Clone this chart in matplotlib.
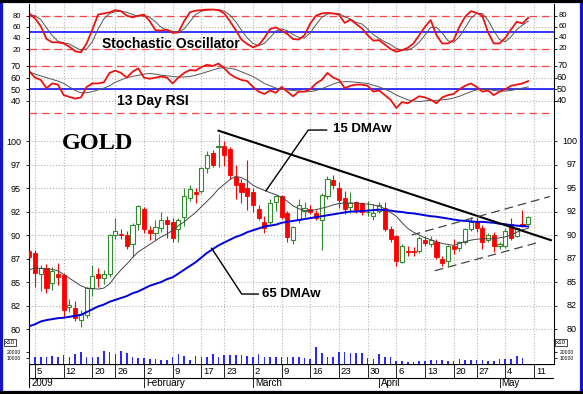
import matplotlib
matplotlib.use('Agg')
import matplotlib.pyplot as plt
from matplotlib.patches import Rectangle
import numpy as np

plt.rcParams['font.family'] = ['Liberation Sans', 'DejaVu Sans']

W, H = 583, 394

# ---- daily candles (trading day index 0 = Jan 2 2009) ----
opens = [88.3, 88.1, 85.9, 86.5, 84.9, 85.8, 85.7, 82.3, 82.2, 81.0,
         81.5, 84.4, 85.8, 85.4, 85.8, 90.0, 90.1, 90.0, 89.0, 91.2,
         92.8, 90.5, 90.2, 90.7, 91.6, 91.4, 90.6, 91.9, 93.9, 94.6,
         94.7, 97.1, 98.7, 99.4, 99.5, 99.2, 96.2, 95.5, 95.0, 94.6,
         92.8, 91.4, 91.4, 93.5, 94.1, 92.3, 89.5, 91.6, 92.6, 92.8,
         92.3, 91.6, 94.1, 95.9, 95.0, 93.9, 93.0, 93.5, 93.4, 92.4,
         92.0, 92.6, 92.9, 90.6, 89.9, 87.1, 88.3, 88.35, 88.3, 89.5,
         89.0, 89.3, 87.4, 87.2, 88.8, 88.6, 89.3, 90.6, 91.4, 90.7,
         89.5, 90.0, 88.8, 88.8, 91.2, 89.9, 91.2, 91.2]
highs = [88.5, 88.4, 86.8, 86.9, 86.6, 87.0, 86.0, 83.2, 83.0, 82.0,
         84.5, 86.8, 86.5, 86.3, 90.1, 91.8, 90.6, 90.4, 91.3, 93.2,
         93.0, 91.0, 91.6, 92.5, 92.0, 91.8, 91.8, 95.0, 95.3, 95.0,
         97.2, 98.9, 99.0, 100.8, 100.0, 99.4, 97.5, 96.0, 98.0, 95.0,
         93.2, 92.0, 93.8, 94.3, 94.3, 92.6, 91.0, 93.8, 93.5, 93.2,
         92.7, 94.5, 96.3, 96.4, 95.6, 94.7, 94.6, 93.6, 93.5, 93.6,
         93.3, 93.5, 93.5, 91.0, 90.0, 89.0, 88.8, 88.7, 89.9, 89.9,
         89.9, 89.6, 87.8, 88.9, 89.6, 89.4, 90.7, 91.9, 91.9, 91.1,
         90.2, 90.3, 89.3, 90.7, 91.8, 90.9, 92.7, 92.0]
lows = [87.5, 84.5, 84.0, 83.8, 84.1, 84.7, 81.3, 81.8, 80.8, 80.2,
        81.2, 83.5, 84.5, 84.8, 85.5, 89.6, 89.6, 88.5, 87.7, 90.5,
        90.2, 89.5, 89.5, 90.3, 89.7, 89.3, 89.3, 91.0, 93.6, 93.4,
        94.5, 96.6, 97.2, 97.2, 97.3, 96.0, 93.8, 93.4, 92.7, 92.5,
        91.6, 90.2, 91.2, 92.6, 91.7, 89.3, 89.0, 91.3, 91.9, 92.2,
        91.6, 88.4, 93.8, 94.9, 92.9, 92.2, 92.3, 92.3, 92.1, 92.0,
        91.6, 92.3, 90.4, 89.3, 86.7, 87.0, 87.8, 87.8, 88.1, 88.8,
        88.7, 87.4, 86.7, 86.7, 88.0, 88.3, 89.0, 90.4, 90.3, 88.5,
        89.3, 88.2, 88.5, 88.6, 89.5, 89.8, 90.9, 91.1]
closes = [87.7, 86.0, 86.5, 84.4, 86.2, 85.5, 82.0, 82.6, 81.2, 81.6,
          84.4, 85.6, 85.4, 85.9, 90.0, 90.4, 90.0, 88.8, 91.1, 93.1,
          90.6, 90.2, 90.8, 91.6, 91.2, 89.7, 91.6, 94.1, 94.9, 94.4,
          97.1, 98.5, 97.5, 99.5, 98.5, 96.4, 95.3, 94.6, 94.1, 93.2,
          91.8, 90.7, 93.4, 94.1, 91.9, 89.8, 90.9, 93.2, 92.9, 92.5,
          91.8, 94.3, 96.0, 95.3, 93.7, 92.8, 93.4, 92.7, 92.5, 92.5,
          92.3, 93.2, 90.6, 89.6, 87.2, 88.8, 88.2, 88.2, 89.7, 89.15,
          89.5, 87.7, 87.0, 88.8, 88.5, 89.3, 90.6, 91.4, 90.7, 89.3,
          90.0, 88.8, 89.0, 90.4, 89.7, 90.7, 91.0, 91.9]

dma15 = [86.3, 86.5, 86.45, 86.4, 86.35, 86.2, 85.8, 85.4, 85.0, 84.6,
         84.35, 84.3, 84.25, 84.35, 84.8, 85.6, 86.3, 86.9, 87.6, 88.2,
         88.6, 89.0, 89.4, 89.8, 90.1, 90.5, 91.0, 91.4, 91.9, 92.4,
         93.0, 93.6, 94.2, 94.9, 95.4, 95.9, 96.25, 96.1, 95.8, 95.3,
         95.0, 94.75, 94.5, 94.3, 94.0, 93.6, 93.1, 92.8, 92.6, 92.6,
         92.7, 92.85, 93.0, 93.2, 93.35, 93.4, 93.4, 93.4, 93.3, 93.3,
         93.2, 93.05, 92.8, 92.4, 92.0, 91.3, 90.7, 90.3, 90.0, 89.7,
         89.5, 89.3, 89.1, 89.0, 88.9, 89.1, 89.3, 89.45, 89.55, 89.6,
         89.6, 89.6, 89.7, 89.8, 90.0, 90.3, 90.55, 90.7]
dma65 = [80.3, 80.5, 80.8, 80.95, 81.05, 81.15, 81.2, 81.3, 81.4, 81.5,
         81.8, 82.1, 82.4, 82.6, 82.9, 83.1, 83.3, 83.5, 83.8, 84.0,
         84.3, 84.6, 84.8, 85.0, 85.3, 85.5, 85.9, 86.3, 86.7, 87.1,
         87.6, 88.1, 88.5, 88.9, 89.2, 89.5, 89.8, 90.0, 90.3, 90.5,
         90.7, 90.9, 91.0, 91.1, 91.3, 91.4, 91.5, 91.6, 91.7, 91.8,
         91.9, 92.0, 92.1, 92.2, 92.3, 92.4, 92.5, 92.5, 92.55, 92.6,
         92.65, 92.7, 92.65, 92.6, 92.5, 92.45, 92.35, 92.3, 92.2, 92.1,
         92.0, 91.95, 91.85, 91.75, 91.65, 91.55, 91.5, 91.45, 91.4, 91.4,
         91.35, 91.3, 91.2, 91.15, 91.05, 91.0, 90.95, 90.9]

stoch_k = [84, 75, 61, 38, 32, 32, 30, 24, 16, 14,
           30, 55, 82, 84, 86, 90, 88, 80, 77, 80,
           82, 70, 54, 53, 55, 49, 50, 70, 86, 89,
           90, 91, 91, 90, 84, 70, 54, 37, 29, 23,
           27, 40, 56, 59, 53, 47, 38, 37, 45, 66,
           80, 84, 85, 84, 82, 67, 73, 65, 57, 45,
           35, 36, 28, 20, 15, 18, 22, 30, 45, 60,
           72, 45, 30, 30, 36, 60, 78, 88, 85, 80,
           50, 30, 30, 40, 55, 69, 66, 76]
stoch_d = [82, 80, 73, 58, 44, 34, 31, 29, 23, 18,
           20, 33, 56, 74, 84, 87, 88, 86, 82, 79,
           80, 77, 69, 59, 54, 52, 51, 56, 69, 82,
           88, 90, 91, 91, 88, 81, 69, 54, 40, 30,
           26, 30, 41, 52, 56, 53, 46, 41, 40, 49,
           64, 77, 83, 84, 84, 78, 74, 68, 65, 56,
           46, 39, 33, 28, 21, 18, 18, 23, 32, 45,
           59, 59, 49, 35, 32, 42, 58, 75, 84, 84,
           72, 53, 37, 33, 42, 55, 63, 70]

rsi = [65.5, 60, 58, 51, 55, 54, 45, 43.5, 42, 43,
       52, 55, 55, 56, 64, 66, 64, 60, 65, 68,
       60, 59, 60, 61, 60, 55, 60, 64, 66.5, 66,
       69, 71, 70, 72, 68, 63, 60, 58, 57, 52,
       48, 46, 49, 47, 52, 48, 44, 48, 48, 50,
       55, 58, 64, 60, 58, 51, 53, 54, 54, 53,
       48, 49, 45, 41, 34, 39, 38, 41, 44, 43,
       41, 38, 43, 45, 46, 50, 53, 55, 52, 48,
       49, 45, 48, 50, 53, 54, 55, 57]
rsi_sig = [65, 63, 61.5, 60, 58.5, 57, 55, 52, 49, 47,
           47, 48, 49.5, 51, 53, 56, 58, 60, 61, 62,
           63, 63.5, 63, 62, 61.5, 61, 60.5, 60.5, 61, 62,
           63.5, 65, 66.5, 68, 68.5, 68, 67, 65, 63, 61,
           58, 55, 53, 51, 50, 49.5, 49, 48.5, 48, 48,
           49, 50.5, 52.5, 54.5, 56, 56.5, 56.5, 56, 55.5, 55,
           53.5, 52, 50, 48, 45, 43, 41, 40, 39.5, 40,
           40.5, 40.5, 41, 41.5, 42.5, 44, 46, 48, 49.5, 50,
           50, 49, 48.5, 48.5, 49, 50, 51, 52]

volume = [10000, 11700, 11700, 11700, 13900, 11700, 15600, 12800, 16700, 20000,
          12800, 12800, 11700, 22000, 21000, 16700, 22000, 18300, 12800, 10000,
          10000, 8300, 8300, 7200, 7200, 11700, 16700, 13900, 7200, 13900,
          12800, 12800, 16700, 12800, 15600, 15600, 15600, 15600, 13900, 12800,
          16700, 12800, 11700, 11700, 12800, 11700, 11700, 11700, 10000, 8300,
          28300, 19400, 12800, 12800, 21000, 21000, 18300, 18300, 18300, 10000,
          8300, 17200, 11700, 12800, 6100, 6100, 4400, 4400, 6100, 6100,
          7200, 7200, 7200, 6100, 6100, 8300, 7200, 7200, 7200, 7200,
          6100, 6100, 8300, 8300, 8300, 13900, 10000, 0]

# x axis labels
date_ticks = [1, 6, 11, 15, 20, 25, 30, 34, 39, 44, 49, 54, 59, 64, 69, 74, 78, 83, 88]
date_labels = ['5', '12', '20', '26', '2', '9', '17', '23', '2', '9', '16', '23',
               '30', '6', '13', '20', '27', '4', '11']
month_pos = [0, 20, 39, 61, 82]
month_labels = ['2009', 'February', 'March', 'April', 'May']

price_ticks = [80, 82.5, 85, 87.5, 90, 92.5, 95, 97.5, 100]
price_labels = ['80', '82', '85', '87', '90', '92', '95', '97', '100']

# resistance line and trading channel (index, price)
trend_x, trend_y = [33, 90.95], [101.1, 89.45]
chan_up_x, chan_up_y = [66.7, 90.8], [90.0, 94.1]
chan_lo_x, chan_lo_y = [70.7, 88.7], [86.2, 89.2]

x = np.arange(len(closes))
XLIM = (-0.05, 91.5)
GREEN = '#2e8b2e'
RED = '#ff0000'


def panel(top, bottom):
    # pixel rows -> figure axes
    return fig.add_axes([29 / W, 1 - bottom / H, 525 / W, (bottom - top) / H])


def style(ax, ticks, labels, size, rx):
    ax.set_xlim(*XLIM)
    ax.spines['top'].set_visible(False)
    ax.spines['bottom'].set_visible(False)
    ax.spines['left'].set_linewidth(0.8)
    ax.spines['right'].set_linewidth(0.8)
    ax.set_xticks(date_ticks)
    ax.tick_params(axis='x', bottom=False, labelbottom=False)
    ax.set_yticks(ticks)
    ax.set_yticklabels(labels)
    ax.tick_params(axis='y', left=True, right=True, labelleft=True, direction='out',
                   length=2.2, width=0.6, pad=3.6, labelsize=size)
    for t, lab in zip(ticks, labels):
        ax.text(rx, t, lab, transform=ax.get_yaxis_transform(), ha='right',
                va='center', fontsize=size, clip_on=False)
    ax.grid(True, color='#b5b5b5', linestyle=':', linewidth=0.8)
    ax.set_axisbelow(True)


fig = plt.figure(figsize=(W / 100, H / 100), dpi=100)

# ---- stochastic ----
ax_s = panel(4, 58)
ax_s.set_ylim(3.8, 101)
style(ax_s, [20, 40, 60, 80], ['20', '40', '60', '80'], 5.5, 1.0248)
for lvl in (20, 80):
    ax_s.axhline(lvl, color='#ff4444', linestyle=(0, (6, 4)), linewidth=0.9)
ax_s.axhline(50, color='#0000ff', linewidth=1.1)
ax_s.plot(x, stoch_d, color='#555555', linewidth=0.7)
ax_s.plot(x, stoch_k, color='#ee1111', linewidth=1.3)
ax_s.text(12.6, 29, 'Stochastic Oscillator', fontsize=10, fontweight='bold',
          ha='left', va='center')

# ---- RSI ----
ax_r = panel(58, 118)
ax_r.set_ylim(25.4, 76.8)
style(ax_r, [40, 50, 60, 70], ['40', '50', '60', '70'], 6.5, 1.0248)
for lvl in (30, 70):
    ax_r.axhline(lvl, color='#ff4444', linestyle=(0, (6, 4)), linewidth=0.9)
ax_r.axhline(50, color='#0000ff', linewidth=1.1)
ax_r.plot(x, rsi_sig, color='#555555', linewidth=0.7)
ax_r.plot(x, rsi, color='#ee1111', linewidth=1.3)
ax_r.text(15.25, 40, '13 Day RSI', fontsize=10, fontweight='bold',
          ha='left', va='center')

# ---- price ----
ax_p = panel(118, 340)
ax_p.set_ylim(78.83, 102.45)
style(ax_p, price_ticks, price_labels, 6.5, 1.0438)
o = np.array(opens)
c = np.array(closes)
up = c >= o
ax_p.vlines(x[up], np.array(lows)[up], np.array(highs)[up], color=GREEN, linewidth=0.8, zorder=2)
ax_p.vlines(x[~up], np.array(lows)[~up], np.array(highs)[~up], color=RED, linewidth=0.8, zorder=2)
ax_p.bar(x[up], (c - o)[up], bottom=o[up], width=0.72, facecolor='white',
         edgecolor=GREEN, linewidth=0.8, zorder=3)
ax_p.bar(x[~up], (o - c)[~up], bottom=c[~up], width=0.72, facecolor=RED,
         edgecolor=RED, linewidth=0.6, zorder=3)
ax_p.plot(x, dma15, color='#444444', linewidth=0.7, zorder=4)
ax_p.plot(x, dma65, color='#0000dd', linewidth=1.4, zorder=4)
ax_p.plot(trend_x, trend_y, color='black', linewidth=1.5, zorder=5)
ax_p.plot(chan_up_x, chan_up_y, color='#444444', linewidth=0.9, linestyle=(0, (7, 4)), zorder=5)
ax_p.plot(chan_lo_x, chan_lo_y, color='#444444', linewidth=0.9, linestyle=(0, (7, 4)), zorder=5)
ax_p.text(5.7, 99.7, 'GOLD', fontsize=17.5, fontweight='bold', family='Liberation Serif',
          ha='left', va='center')
ax_p.plot([51.85, 48.65, 41.27], [101.17, 101.17, 94.71], color='black', linewidth=1.0, zorder=5)
ax_p.text(52.95, 101.3, '15 DMAw', fontsize=9.5, fontweight='bold', ha='left', va='center')
ax_p.plot([39.93, 37.04, 31.8], [83.72, 83.72, 88.59], color='black', linewidth=1.0, zorder=5)
ax_p.text(40.52, 83.72, '65 DMAw', fontsize=9.5, fontweight='bold', ha='left', va='center')

# ---- volume ----
ax_v = panel(340, 364.3)
ax_v.set_ylim(0, 40500)
style(ax_v, [10000, 20000], ['10000', '20000'], 3.6, 1.0381)
ax_v.grid(False, axis='y')
ax_v.bar(x, volume, width=0.28, color='#2828ff', zorder=3)
fig.text(9.7 / W, 1 - 342.3 / H, 'x10', fontsize=4.5, ha='center', va='center',
         bbox=dict(boxstyle='square,pad=0.15', fc='white', ec='black', lw=0.5))
fig.text(561 / W, 1 - 342.3 / H, 'x10', fontsize=4.5, ha='center', va='center',
         bbox=dict(boxstyle='square,pad=0.15', fc='white', ec='black', lw=0.5))

# ---- date rows ----
ax_d = panel(364.3, 388.3)
ax_d.set_xlim(*XLIM)
ax_d.set_ylim(0, 24)
ax_d.axis('off')
ax_d.axhline(24, color='black', linewidth=0.9)
ax_d.axhline(10, color='black', linewidth=0.8)
ax_d.axvline(XLIM[0], color='black', linewidth=0.8)
ax_d.vlines(date_ticks, 10, 24, color='black', linewidth=0.6)
for t, lab in zip(date_ticks, date_labels):
    ax_d.text(t + 0.35, 16.5, lab, fontsize=6.8, ha='left', va='center')
ax_d.vlines(month_pos, 0, 10, color='black', linewidth=0.6)
for t, lab in zip(month_pos, month_labels):
    ax_d.text(t + 0.35, 5, lab, fontsize=7, ha='left', va='center')

# ---- frame ----
fig.patches.append(Rectangle((0, 0), 1, 1, transform=fig.transFigure, fill=False,
                             edgecolor='#1414c8', linewidth=4.5, zorder=10))
fig.patches.append(Rectangle((0, 1 - 3 / H), 1, 3 / H, transform=fig.transFigure,
                             facecolor='black', edgecolor='none', zorder=11))
fig.patches.append(Rectangle((0, 0), 1, 3 / H, transform=fig.transFigure,
                             facecolor='black', edgecolor='none', zorder=11))

fig.savefig('out.png', dpi=100)
